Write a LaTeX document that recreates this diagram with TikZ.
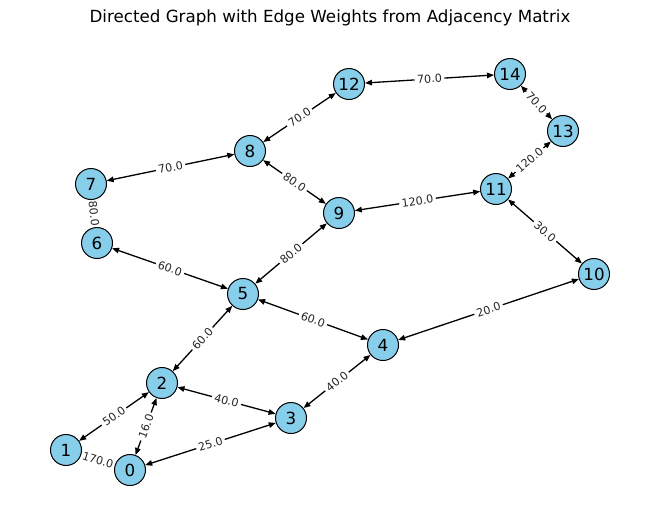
\documentclass[tikz,border=0pt]{standalone}
\usepackage{fontspec}
\setmainfont{DejaVu Sans}
\usetikzlibrary{arrows.meta}
\pgfdeclarelayer{background}
\pgfsetlayers{background,main}
\definecolor{sky}{HTML}{87CEEB}
\begin{document}
\begin{tikzpicture}[x=1pt,y=-1pt,
  vert/.style={circle, draw=black, line width=1pt, fill=sky, minimum size=31pt, inner sep=0pt, font=\fontsize{16.7}{20}\selectfont},
  edge/.style={{Triangle[length=7pt,width=5.5pt]}-{Triangle[length=7pt,width=5.5pt]}, line width=1.3pt},
  wlab/.style={fill=white, rounded corners=3pt, inner sep=2.5pt, font=\fontsize{11.1}{13}\selectfont, sloped, midway, text=black!85}]
\useasboundingbox (0,0) rectangle (660,522);
\node (title) at (330,18) {\fontsize{16.7}{20}\selectfont Directed Graph with Edge Weights from Adjacency Matrix};
\node[vert] (n0) at (130,470) {0};
\node[vert] (n1) at (66,450) {1};
\node[vert] (n2) at (162,383) {2};
\node[vert] (n3) at (291,418) {3};
\node[vert] (n4) at (383,345) {4};
\node[vert] (n5) at (243,294) {5};
\node[vert] (n6) at (97,243) {6};
\node[vert] (n7) at (91,184) {7};
\node[vert] (n8) at (250,151) {8};
\node[vert] (n9) at (339,213) {9};
\node[vert] (n10) at (594,274) {10};
\node[vert] (n11) at (496,189) {11};
\node[vert] (n12) at (349,84) {12};
\node[vert] (n13) at (563,131) {13};
\node[vert] (n14) at (510,74) {14};
\begin{pgfonlayer}{background}
\draw[edge] (n7) -- node[wlab]{70.0} (n8);
\draw[edge] (n8) -- node[wlab]{70.0} (n12);
\draw[edge] (n12) -- node[wlab]{70.0} (n14);
\draw[edge] (n14) -- node[wlab]{70.0} (n13);
\draw[edge] (n13) -- node[wlab]{120.0} (n11);
\draw[edge] (n9) -- node[wlab]{120.0} (n11);
\draw[edge] (n11) -- node[wlab]{30.0} (n10);
\draw[edge] (n8) -- node[wlab]{80.0} (n9);
\draw[edge] (n5) -- node[wlab]{80.0} (n9);
\draw[edge] (n7) -- node[wlab]{80.0} (n6);
\draw[edge] (n6) -- node[wlab]{60.0} (n5);
\draw[edge] (n5) -- node[wlab]{60.0} (n4);
\draw[edge] (n4) -- node[wlab]{20.0} (n10);
\draw[edge] (n2) -- node[wlab]{60.0} (n5);
\draw[edge] (n2) -- node[wlab]{40.0} (n3);
\draw[edge] (n3) -- node[wlab]{40.0} (n4);
\draw[edge] (n1) -- node[wlab]{50.0} (n2);
\draw[edge] (n0) -- node[wlab]{16.0} (n2);
\draw[edge] (n0) -- node[wlab]{25.0} (n3);
\draw[edge] (n1) -- node[wlab]{170.0} (n0);
\end{pgfonlayer}
\end{tikzpicture}
\end{document}
